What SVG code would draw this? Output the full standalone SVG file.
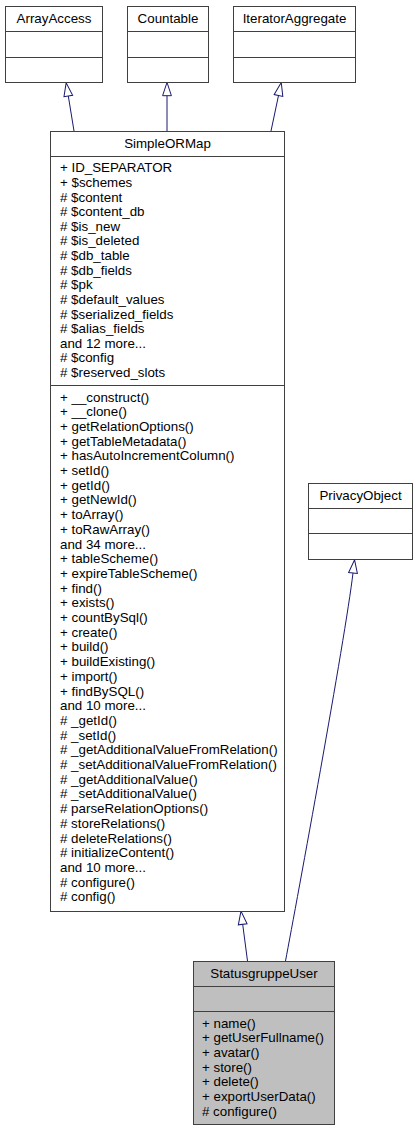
<svg xmlns="http://www.w3.org/2000/svg" width="418" height="1131" viewBox="0 0 418 1131">
<style>
  .box { fill: #ffffff; stroke: #404040; stroke-width: 1; }
  .grey { fill: #bfbfbf; }
  .div { stroke: #404040; stroke-width: 1; }
  text { font-family: "Liberation Sans", Arial, Helvetica, sans-serif; font-size: 13.33px; fill: #000000; }
  .t { text-anchor: middle; }
  .edge { fill: none; stroke: #191970; stroke-width: 1; marker-end: url(#tri); }
</style>
<defs>
  <marker id="tri" markerUnits="userSpaceOnUse" markerWidth="16" markerHeight="12" viewBox="-1 -6 16 12" refX="0" refY="0" orient="auto">
    <path d="M0,-4.4 L13.3,0 L0,4.4 Z" fill="#ffffff" stroke="#191970" stroke-width="1"/>
  </marker>
</defs>
<rect x="0" y="0" width="418" height="1131" fill="#ffffff"/>

<g id="connectors">
  <path class="edge" d="M74,131 L68.3,96"/>
  <path class="edge" d="M167,131 L167,95.7"/>
  <path class="edge" d="M271,131 L278.5,95.5"/>
  <path class="edge" d="M247.5,961 L242.7,924.3"/>
  <path class="edge" d="M285.5,961 C297,900 345,640 353,573"/>
</g>

<g id="ArrayAccess">
  <rect class="box" x="5.5" y="6.5" width="97" height="76"/>
  <line class="div" x1="5.5" y1="31.5" x2="102.5" y2="31.5"/>
  <line class="div" x1="5.5" y1="57.5" x2="102.5" y2="57.5"/>
  <text class="t" x="54" y="23">ArrayAccess</text>
</g>

<g id="Countable">
  <rect class="box" x="127.5" y="6.5" width="81" height="76"/>
  <line class="div" x1="127.5" y1="31.5" x2="208.5" y2="31.5"/>
  <line class="div" x1="127.5" y1="57.5" x2="208.5" y2="57.5"/>
  <text class="t" x="168" y="23">Countable</text>
</g>

<g id="IteratorAggregate">
  <rect class="box" x="233.5" y="6.5" width="122" height="76"/>
  <line class="div" x1="233.5" y1="31.5" x2="355.5" y2="31.5"/>
  <line class="div" x1="233.5" y1="57.5" x2="355.5" y2="57.5"/>
  <text class="t" x="294.5" y="23">IteratorAggregate</text>
</g>

<g id="SimpleORMap">
  <rect class="box" x="50.5" y="131.5" width="234" height="780"/>
  <line class="div" x1="50.5" y1="156.5" x2="284.5" y2="156.5"/>
  <line class="div" x1="50.5" y1="385.5" x2="284.5" y2="385.5"/>
  <text class="t" x="167.5" y="148">SimpleORMap</text>
  <text x="60" y="172.3">+ ID_SEPARATOR</text>
  <text x="60" y="186.9">+ $schemes</text>
  <text x="60" y="201.5"># $content</text>
  <text x="60" y="216.2"># $content_db</text>
  <text x="60" y="230.8"># $is_new</text>
  <text x="60" y="245.4"># $is_deleted</text>
  <text x="60" y="260.0"># $db_table</text>
  <text x="60" y="274.6"># $db_fields</text>
  <text x="60" y="289.3"># $pk</text>
  <text x="60" y="303.9"># $default_values</text>
  <text x="60" y="318.5"># $serialized_fields</text>
  <text x="60" y="333.1"># $alias_fields</text>
  <text x="60" y="347.7">and 12 more...</text>
  <text x="60" y="362.4"># $config</text>
  <text x="60" y="377.0"># $reserved_slots</text>

  <text x="60" y="401.5">+ __construct()</text>
  <text x="60" y="416.2">+ __clone()</text>
  <text x="60" y="430.9">+ getRelationOptions()</text>
  <text x="60" y="445.6">+ getTableMetadata()</text>
  <text x="60" y="460.3">+ hasAutoIncrementColumn()</text>
  <text x="60" y="475.0">+ setId()</text>
  <text x="60" y="489.7">+ getId()</text>
  <text x="60" y="504.4">+ getNewId()</text>
  <text x="60" y="519.1">+ toArray()</text>
  <text x="60" y="533.8">+ toRawArray()</text>
  <text x="60" y="548.5">and 34 more...</text>
  <text x="60" y="563.2">+ tableScheme()</text>
  <text x="60" y="577.9">+ expireTableScheme()</text>
  <text x="60" y="592.6">+ find()</text>
  <text x="60" y="607.3">+ exists()</text>
  <text x="60" y="622.0">+ countBySql()</text>
  <text x="60" y="636.7">+ create()</text>
  <text x="60" y="651.4">+ build()</text>
  <text x="60" y="666.1">+ buildExisting()</text>
  <text x="60" y="680.8">+ import()</text>
  <text x="60" y="695.5">+ findBySQL()</text>
  <text x="60" y="710.2">and 10 more...</text>
  <text x="60" y="724.9"># _getId()</text>
  <text x="60" y="739.6"># _setId()</text>
  <text x="60" y="754.3"># _getAdditionalValueFromRelation()</text>
  <text x="60" y="769.0"># _setAdditionalValueFromRelation()</text>
  <text x="60" y="783.7"># _getAdditionalValue()</text>
  <text x="60" y="798.4"># _setAdditionalValue()</text>
  <text x="60" y="813.1"># parseRelationOptions()</text>
  <text x="60" y="827.8"># storeRelations()</text>
  <text x="60" y="842.5"># deleteRelations()</text>
  <text x="60" y="857.2"># initializeContent()</text>
  <text x="60" y="871.9">and 10 more...</text>
  <text x="60" y="886.6"># configure()</text>
  <text x="60" y="901.3"># config()</text>
</g>

<g id="PrivacyObject">
  <rect class="box" x="308.5" y="483.5" width="104" height="76"/>
  <line class="div" x1="308.5" y1="508.5" x2="412.5" y2="508.5"/>
  <line class="div" x1="308.5" y1="533.5" x2="412.5" y2="533.5"/>
  <text class="t" x="360.5" y="500">PrivacyObject</text>
</g>

<g id="StatusgruppeUser">
  <rect class="box grey" x="193.5" y="961.5" width="141" height="163"/>
  <line class="div" x1="193.5" y1="986.5" x2="334.5" y2="986.5"/>
  <line class="div" x1="193.5" y1="1011.5" x2="334.5" y2="1011.5"/>
  <text class="t" x="264" y="978">StatusgruppeUser</text>
  <text x="202" y="1027.5">+ name()</text>
  <text x="202" y="1042.2">+ getUserFullname()</text>
  <text x="202" y="1056.8">+ avatar()</text>
  <text x="202" y="1071.5">+ store()</text>
  <text x="202" y="1086.2">+ delete()</text>
  <text x="202" y="1100.8">+ exportUserData()</text>
  <text x="202" y="1115.5"># configure()</text>
</g>
</svg>
